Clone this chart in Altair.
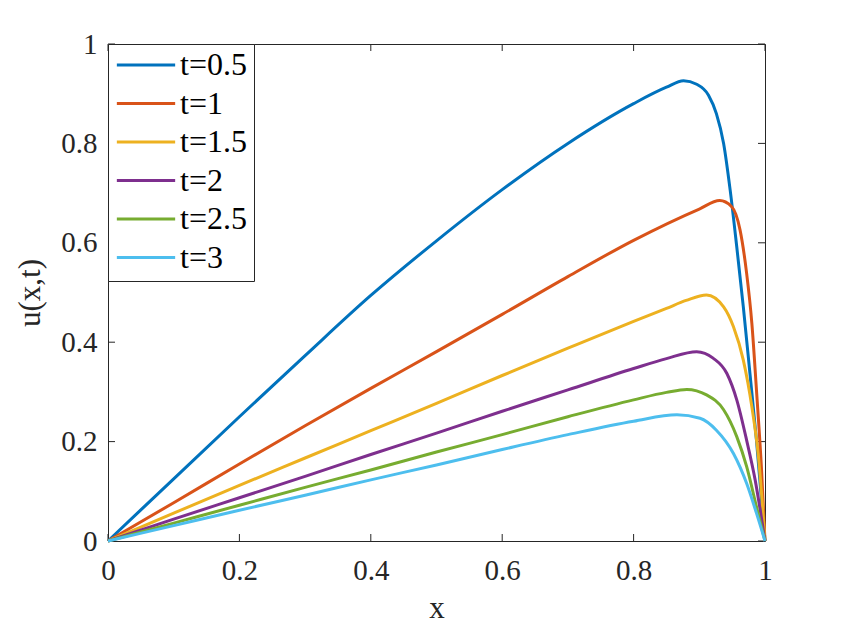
import altair as alt
import pandas as pd

labels = ["t=0.5", "t=1", "t=1.5", "t=2", "t=2.5", "t=3"]
colors = ["#0072BD", "#D95319", "#EDB120", "#7E2F8E", "#77AC30", "#4DBEEE"]

x_05 = [0, 0.1, 0.2, 0.3, 0.4, 0.5, 0.6, 0.7, 0.8, 0.85, 0.876, 0.896, 0.914, 0.926, 0.937, 0.947, 0.957, 0.967, 0.977, 0.987, 1.0]
u_05 = [0, 0.125, 0.250, 0.373, 0.494, 0.604, 0.707, 0.800, 0.880, 0.913, 0.926, 0.919, 0.897, 0.860, 0.800, 0.706, 0.592, 0.471, 0.338, 0.203, 0]

x_10 = [0, 0.1, 0.2, 0.3, 0.4, 0.5, 0.6, 0.7, 0.8, 0.9, 0.931, 0.949, 0.962, 0.972, 0.980, 0.987, 0.995, 1.0]
u_10 = [0, 0.077, 0.155, 0.232, 0.307, 0.381, 0.456, 0.532, 0.605, 0.668, 0.685, 0.673, 0.626, 0.539, 0.438, 0.304, 0.137, 0]

x_15 = [0, 0.1, 0.2, 0.3, 0.4, 0.5, 0.6, 0.7, 0.8, 0.85, 0.88, 0.911, 0.937, 0.952, 0.967, 0.980, 0.990, 1.0]
u_15 = [0, 0.056, 0.112, 0.167, 0.222, 0.277, 0.333, 0.388, 0.442, 0.468, 0.484, 0.495, 0.471, 0.431, 0.364, 0.270, 0.170, 0]

x_20 = [0, 0.1, 0.2, 0.3, 0.4, 0.5, 0.6, 0.7, 0.8, 0.85, 0.896, 0.921, 0.942, 0.957, 0.972, 0.985, 1.0]
u_20 = [0, 0.044, 0.087, 0.130, 0.174, 0.217, 0.261, 0.304, 0.347, 0.367, 0.381, 0.368, 0.337, 0.284, 0.203, 0.123, 0]

x_25 = [0, 0.1, 0.2, 0.3, 0.4, 0.5, 0.6, 0.7, 0.8, 0.85, 0.881, 0.911, 0.937, 0.957, 0.972, 0.987, 1.0]
u_25 = [0, 0.036, 0.072, 0.108, 0.143, 0.179, 0.214, 0.250, 0.284, 0.299, 0.305, 0.294, 0.264, 0.210, 0.150, 0.069, 0]

x_30 = [0, 0.1, 0.2, 0.3, 0.4, 0.5, 0.6, 0.7, 0.8, 0.866, 0.901, 0.926, 0.952, 0.972, 0.987, 1.0]
u_30 = [0, 0.031, 0.062, 0.092, 0.123, 0.153, 0.184, 0.214, 0.241, 0.254, 0.247, 0.223, 0.176, 0.116, 0.056, 0]

tick_values = [0, 0.2, 0.4, 0.6, 0.8, 1.0]

series = [(labels[0], x_05, u_05), (labels[1], x_10, u_10), (labels[2], x_15, u_15),
          (labels[3], x_20, u_20), (labels[4], x_25, u_25), (labels[5], x_30, u_30)]
rows = []
for k, (name, xs, us) in enumerate(series):
    for i, (xv, uv) in enumerate(zip(xs, us)):
        rows.append({"series": name, "order": k, "i": i, "x": xv, "u": uv})
df = pd.DataFrame(rows)
ticks_df = pd.DataFrame({"v": tick_values})

W, H = 657, 497
FONT = "Liberation Serif"
TXT = "#262626"
TL = 7

xscale = alt.Scale(domain=[0, 1], nice=False, zero=False)
yscale = alt.Scale(domain=[0, 1], nice=False, zero=False)

lines = alt.Chart(df).mark_line(strokeWidth=3, clip=False, interpolate="monotone").encode(
    x=alt.X("x:Q", scale=xscale,
            axis=alt.Axis(title="x", values=tick_values, format=".1~f", labelFlush=False,
                          labelPadding=15, titlePadding=8, ticks=False, domain=False, grid=False)),
    y=alt.Y("u:Q", scale=yscale,
            axis=alt.Axis(title="u(x,t)", values=tick_values, format=".1~f", labelFlush=False,
                          labelPadding=11, titlePadding=14, ticks=False, domain=False, grid=False)),
    color=alt.Color("series:N", sort=labels,
                    scale=alt.Scale(domain=labels, range=colors),
                    legend=alt.Legend(title=None, orient="none", legendX=0, legendY=0,
                                      symbolType="stroke", symbolSize=3400, symbolStrokeWidth=3,
                                      clipHeight=28, rowPadding=6.5, padding=7, labelOffset=3,
                                      labelFont=FONT, labelFontSize=32, labelColor="black",
                                      strokeColor="#262626", fillColor="white", labelLimit=300)),
    detail="series:N",
    order=alt.Order("i:Q"),
)

bx = alt.Chart(ticks_df).mark_rule(color=TXT, strokeWidth=1)
bottom_ticks = bx.encode(x=alt.X("v:Q", scale=xscale), y=alt.value(H), y2=alt.value(H - TL))
top_ticks = bx.encode(x=alt.X("v:Q", scale=xscale), y=alt.value(0), y2=alt.value(TL))
left_ticks = bx.encode(y=alt.Y("v:Q", scale=yscale), x=alt.value(0), x2=alt.value(TL))
right_ticks = bx.encode(y=alt.Y("v:Q", scale=yscale), x=alt.value(W), x2=alt.value(W - TL))

chart = alt.layer(bottom_ticks, top_ticks, left_ticks, right_ticks, lines).properties(
    width=W, height=H,
    autosize=alt.AutoSizeParams(type="none"),
    padding={"left": 108, "top": 44, "right": 77, "bottom": 89},
).configure(
    background="white"
).configure_view(
    stroke=TXT, strokeWidth=1
).configure_axis(
    labelFont=FONT, labelFontSize=29, labelColor=TXT,
    titleFont=FONT, titleFontSize=31, titleColor=TXT, titleFontWeight="normal",
)

chart.save("out.html", embed_options={"renderer": "svg", "actions": False})
